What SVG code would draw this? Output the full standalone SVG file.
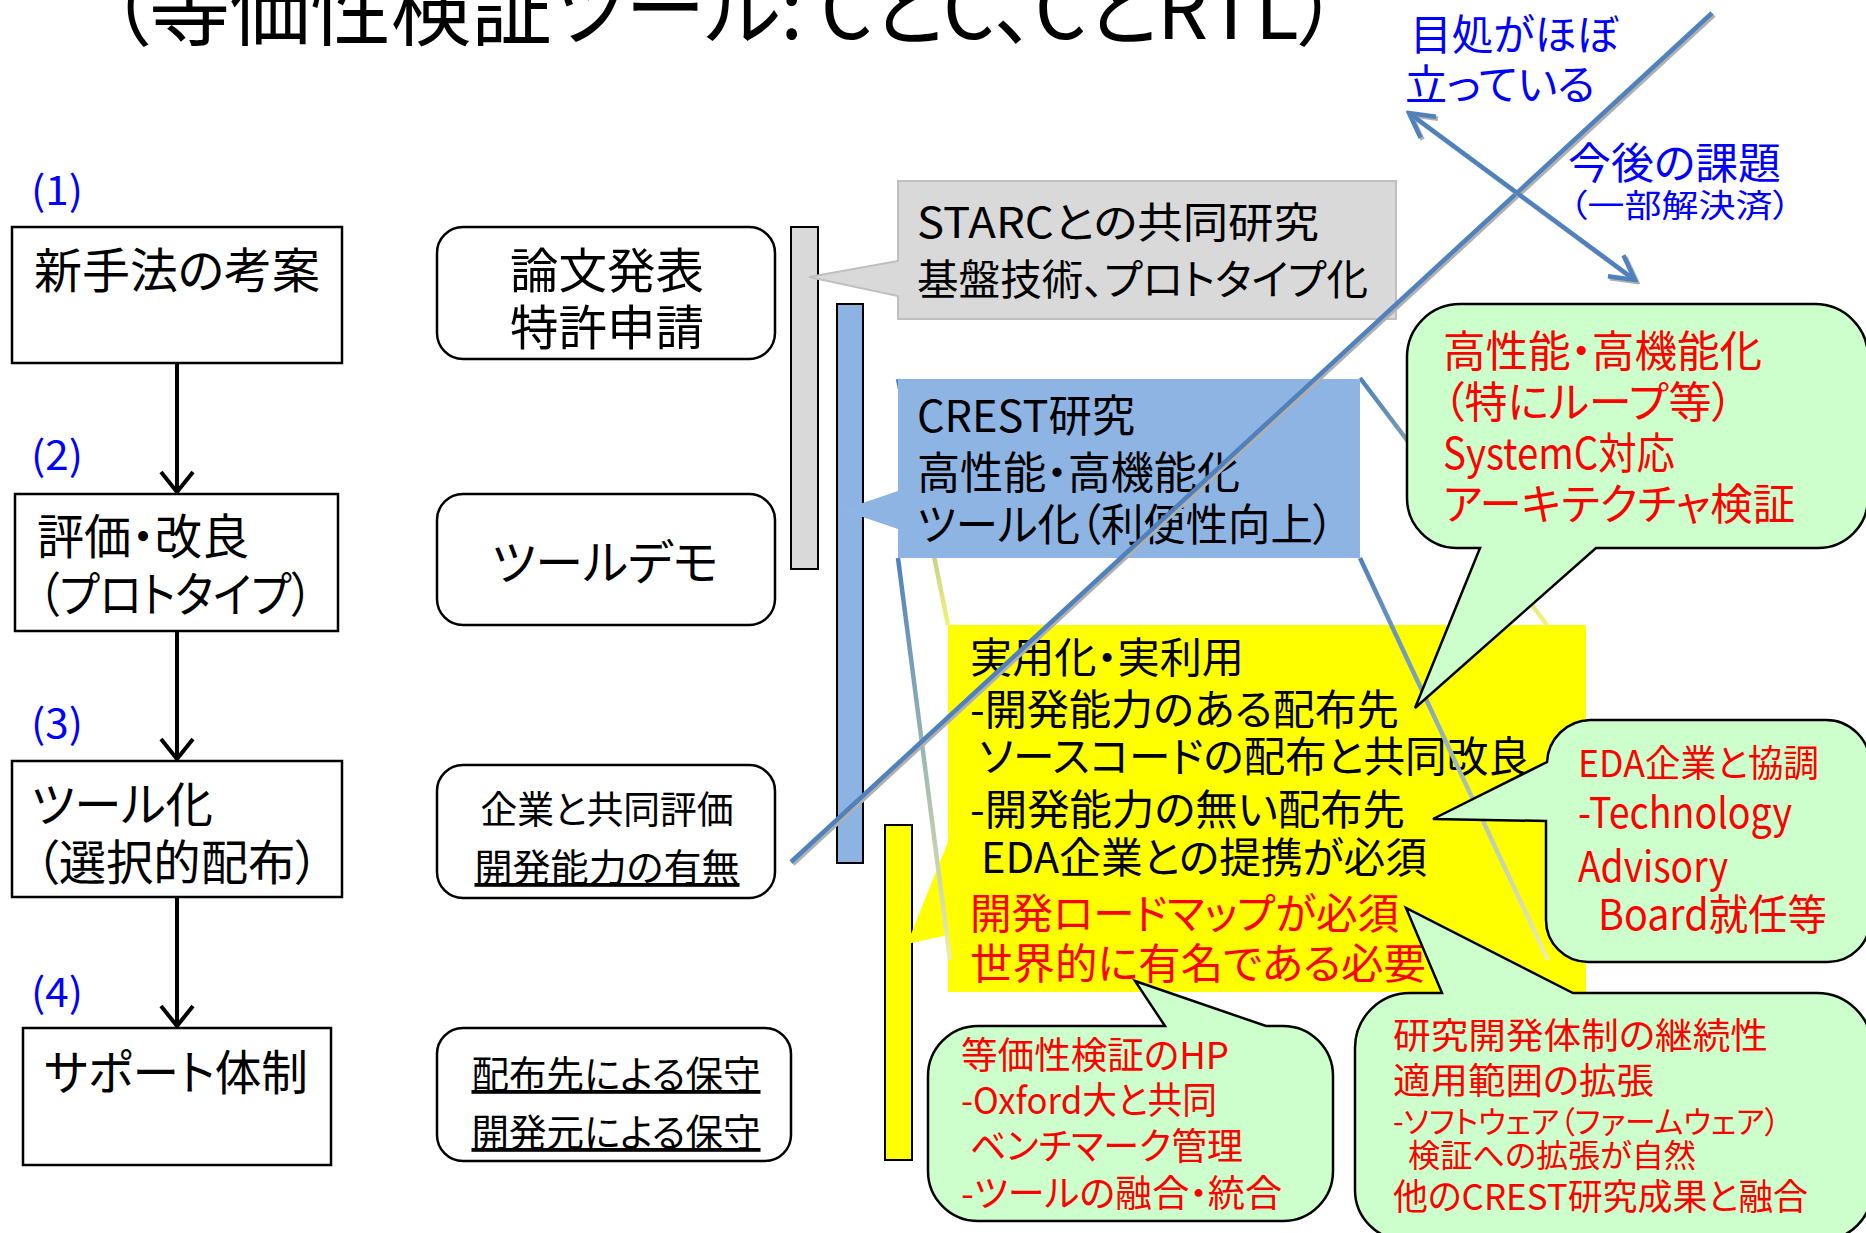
<svg xmlns="http://www.w3.org/2000/svg" width="1866" height="1233" viewBox="0 0 1866 1233">
<style>
text{font-family:"Noto Sans CJK JP","Noto Sans",sans-serif;font-feature-settings:"palt" 1;}
.k{fill:#000}.r{fill:#FF0000}.b{fill:#0000FF}
.box{fill:#FFFFFF;stroke:#000;stroke-width:2.5}
.bub{fill:#CCFFCC;stroke:#000;stroke-width:2.5}
.u{text-decoration:underline}
.mid{text-anchor:middle}
</style>
<defs>
<marker id="ah" markerUnits="userSpaceOnUse" viewBox="0 0 26 38" refX="23" refY="19" markerWidth="26" markerHeight="38" orient="auto">
<path d="M3,3 L23,19 L3,35" fill="none" stroke="#000" stroke-width="4"/>
</marker>
<marker id="bh" markerUnits="userSpaceOnUse" viewBox="0 0 30 32" refX="27" refY="16" markerWidth="30" markerHeight="32" orient="auto-start-reverse">
<path d="M3,3 L27,16 L3,29" fill="none" stroke="#4F81BD" stroke-width="4.5"/>
</marker>
<marker id="sh" markerUnits="userSpaceOnUse" viewBox="0 0 30 32" refX="27" refY="16" markerWidth="30" markerHeight="32" orient="auto-start-reverse">
<path d="M3,3 L27,16 L3,29" fill="none" stroke="#B0B0B0" stroke-width="4.5"/>
</marker>
<linearGradient id="g1" gradientUnits="userSpaceOnUse" x1="898" y1="379" x2="948" y2="625"><stop offset="0" stop-color="#4F81BD"/><stop offset="1" stop-color="#F2F27A"/></linearGradient>
<linearGradient id="g2" gradientUnits="userSpaceOnUse" x1="1360" y1="378" x2="1547" y2="625"><stop offset="0" stop-color="#4F81BD"/><stop offset="1" stop-color="#F2F27A"/></linearGradient>
<linearGradient id="g3" gradientUnits="userSpaceOnUse" x1="898" y1="558" x2="950" y2="960"><stop offset="0" stop-color="#4F81BD"/><stop offset="1" stop-color="#EEEEA8"/></linearGradient>
<linearGradient id="g4" gradientUnits="userSpaceOnUse" x1="1360" y1="558" x2="1548" y2="960"><stop offset="0" stop-color="#4F81BD"/><stop offset="1" stop-color="#EEEEA8"/></linearGradient>
</defs>

<g id="title">
<text x="109" y="39" font-size="84" class="k" textLength="1230" lengthAdjust="spacingAndGlyphs">（等価性検証ツール: CとC、CとRTL）</text>
</g>

<g id="step1">
<text x="31" y="205" font-size="40" class="b" textLength="52" lengthAdjust="spacingAndGlyphs">(1)</text>
<rect class="box" x="12" y="227" width="330" height="136"/>
<text x="34" y="288" font-size="48" class="k" textLength="286" lengthAdjust="spacingAndGlyphs">新手法の考案</text>
</g>
<g id="step2">
<text x="31" y="470" font-size="40" class="b" textLength="52" lengthAdjust="spacingAndGlyphs">(2)</text>
<rect class="box" x="15" y="494" width="323" height="137"/>
<text x="37" y="554" font-size="48" class="k" textLength="212" lengthAdjust="spacingAndGlyphs">評価・改良</text>
<text x="38" y="612" font-size="48" class="k" textLength="275" lengthAdjust="spacingAndGlyphs">（プロトタイプ）</text>
</g>
<g id="step3">
<text x="31" y="738" font-size="40" class="b" textLength="52" lengthAdjust="spacingAndGlyphs">(3)</text>
<rect class="box" x="12" y="761" width="330" height="136"/>
<text x="31" y="822" font-size="48" class="k" textLength="182" lengthAdjust="spacingAndGlyphs">ツール化</text>
<text x="35" y="880" font-size="48" class="k" textLength="284" lengthAdjust="spacingAndGlyphs">（選択的配布）</text>
</g>
<g id="step4">
<text x="31" y="1007" font-size="40" class="b" textLength="52" lengthAdjust="spacingAndGlyphs">(4)</text>
<rect class="box" x="23" y="1028" width="308" height="137"/>
<text x="44" y="1090" font-size="48" class="k" textLength="264" lengthAdjust="spacingAndGlyphs">サポート体制</text>
</g>

<g id="pub">
<rect class="box" x="437" y="227" width="338" height="132" rx="26"/>
<text x="607" y="288" font-size="48" class="k mid" textLength="194" lengthAdjust="spacingAndGlyphs">論文発表</text>
<text x="607" y="345" font-size="48" class="k mid" textLength="194" lengthAdjust="spacingAndGlyphs">特許申請</text>
</g>
<g id="demo">
<rect class="box" x="437" y="494" width="338" height="131" rx="26"/>
<text x="605" y="580" font-size="48" class="k mid" textLength="227" lengthAdjust="spacingAndGlyphs">ツールデモ</text>
</g>
<g id="joint-eval">
<rect class="box" x="437" y="765" width="338" height="133" rx="26"/>
<text x="607" y="823" font-size="38" class="k mid" textLength="253" lengthAdjust="spacingAndGlyphs">企業と共同評価</text>
<text x="607" y="881" font-size="38" class="k mid u" textLength="265" lengthAdjust="spacingAndGlyphs">開発能力の有無</text>
</g>
<g id="maint">
<rect class="box" x="437" y="1028" width="354" height="133" rx="26"/>
<text x="616" y="1088" font-size="38" class="k mid u" textLength="289" lengthAdjust="spacingAndGlyphs">配布先による保守</text>
<text x="616" y="1146" font-size="38" class="k mid u" textLength="289" lengthAdjust="spacingAndGlyphs">開発元による保守</text>
</g>

<g id="bar-gray"><rect x="791" y="227" width="27" height="342" fill="#D9D9D9" stroke="#000" stroke-width="2"/></g>
<g id="bar-blue"><rect x="837" y="304" width="26" height="559" fill="#8DB3E2" stroke="#000" stroke-width="2"/></g>
<g id="bar-yellow"><rect x="885" y="825" width="27" height="335" fill="#FFFF00" stroke="#000" stroke-width="2"/></g>

<g id="practical">
<path d="M948,625 H1586 V992 H948 V935 L907,944 L948,842 Z" fill="#FFFF00"/>
<text x="970" y="673" font-size="42" class="k" textLength="274" lengthAdjust="spacingAndGlyphs">実用化・実利用</text>
<text x="970" y="725" font-size="42" class="k" textLength="429" lengthAdjust="spacingAndGlyphs">-開発能力のある配布先</text>
<text x="979" y="772" font-size="42" class="k" textLength="551" lengthAdjust="spacingAndGlyphs">ソースコードの配布と共同改良</text>
<text x="970" y="825" font-size="42" class="k" textLength="435" lengthAdjust="spacingAndGlyphs">-開発能力の無い配布先</text>
<text x="981" y="873" font-size="42" class="k" textLength="446" lengthAdjust="spacingAndGlyphs">EDA企業との提携が必須</text>
<text x="970" y="929" font-size="42" class="r" textLength="429" lengthAdjust="spacingAndGlyphs">開発ロードマップが必須</text>
<text x="970" y="979" font-size="42" class="r" textLength="456" lengthAdjust="spacingAndGlyphs">世界的に有名である必要</text>
</g>

<g id="zoom-lines" fill="none" stroke-width="4.5">
<line x1="898" y1="379" x2="948" y2="625" stroke="url(#g1)"/>
<line x1="1360" y1="378" x2="1547" y2="625" stroke="url(#g2)"/>
<line x1="898" y1="558" x2="950" y2="960" stroke="url(#g3)"/>
<line x1="1360" y1="558" x2="1548" y2="960" stroke="url(#g4)"/>
</g>

<g id="starc">
<path d="M898,181 H1396 V319 H898 V296 L809,277 L898,261 Z" fill="#D9D9D9" stroke="#BFBFBF" stroke-width="2"/>
<text x="917" y="238" font-size="42" class="k" textLength="402" lengthAdjust="spacingAndGlyphs">STARCとの共同研究</text>
<text x="917" y="295" font-size="42" class="k" textLength="451" lengthAdjust="spacingAndGlyphs">基盤技術、プロトタイプ化</text>
</g>

<g id="crest">
<path d="M898,379 H1360 V558 H898 V529 L842,510 L898,491 Z" fill="#8DB4E2"/>
<text x="917" y="432" font-size="44" class="k" textLength="218" lengthAdjust="spacingAndGlyphs">CREST研究</text>
<text x="917" y="489" font-size="44" class="k" textLength="323" lengthAdjust="spacingAndGlyphs">高性能・高機能化</text>
<text x="917" y="541" font-size="44" class="k" textLength="417" lengthAdjust="spacingAndGlyphs">ツール化（利便性向上）</text>
</g>

<g id="bubble-perf">
<path class="bub" d="M1460,304 H1815 A53,53 0 0 1 1868,357 V498 A50,50 0 0 1 1818,548 H1596 L1415,708 L1480,548 H1457 A50,50 0 0 1 1407,498 V357 A53,53 0 0 1 1460,304 Z"/>
<text x="1443" y="367" font-size="43" class="r" textLength="319" lengthAdjust="spacingAndGlyphs">高性能・高機能化</text>
<text x="1443" y="418" font-size="43" class="r" textLength="290" lengthAdjust="spacingAndGlyphs">（特にループ等）</text>
<text x="1443" y="469" font-size="43" class="r" textLength="232" lengthAdjust="spacingAndGlyphs">SystemC対応</text>
<text x="1443" y="520" font-size="43" class="r" textLength="352" lengthAdjust="spacingAndGlyphs">アーキテクチャ検証</text>
</g>

<g id="bubble-eda">
<path class="bub" d="M1590,720 H1826 A44,44 0 0 1 1870,764 V920 A42,42 0 0 1 1828,962 H1588 A42,42 0 0 1 1546,920 V821 L1433,819 L1547,762 A44,44 0 0 1 1590,720 Z"/>
<text x="1578" y="777" font-size="37" class="r" textLength="241" lengthAdjust="spacingAndGlyphs">EDA企業と協調</text>
<text x="1578" y="828" font-size="42" class="r" textLength="214" lengthAdjust="spacingAndGlyphs">-Technology</text>
<text x="1578" y="882" font-size="42" class="r" textLength="150" lengthAdjust="spacingAndGlyphs">Advisory</text>
<text x="1598" y="930" font-size="42" class="r" textLength="229" lengthAdjust="spacingAndGlyphs">Board就任等</text>
</g>

<g id="bubble-hp">
<path class="bub" d="M978,1026 H1165 L1135,981 L1266,1026 H1283 A50,50 0 0 1 1333,1076 V1171 A50,50 0 0 1 1283,1221 H978 A50,50 0 0 1 928,1171 V1076 A50,50 0 0 1 978,1026 Z"/>
<text x="961" y="1069" font-size="37" class="r" textLength="268" lengthAdjust="spacingAndGlyphs">等価性検証のHP</text>
<text x="961" y="1114" font-size="37" class="r" textLength="256" lengthAdjust="spacingAndGlyphs">-Oxford大と共同</text>
<text x="970" y="1160" font-size="37" class="r" textLength="273" lengthAdjust="spacingAndGlyphs">ベンチマーク管理</text>
<text x="961" y="1207" font-size="37" class="r" textLength="321" lengthAdjust="spacingAndGlyphs">-ツールの融合・統合</text>
</g>

<g id="bubble-research">
<path class="bub" d="M1410,993 H1442 L1406,908 L1573,993 H1817 A55,55 0 0 1 1872,1048 V1190 A50,50 0 0 1 1822,1240 H1405 A50,50 0 0 1 1355,1190 V1048 A55,55 0 0 1 1410,993 Z"/>
<text x="1393" y="1049" font-size="36" class="r" textLength="375" lengthAdjust="spacingAndGlyphs">研究開発体制の継続性</text>
<text x="1393" y="1094" font-size="36" class="r" textLength="261" lengthAdjust="spacingAndGlyphs">適用範囲の拡張</text>
<text x="1393" y="1133" font-size="31" class="r" textLength="387" lengthAdjust="spacingAndGlyphs">-ソフトウェア（ファームウェア）</text>
<text x="1408" y="1167" font-size="32" class="r" textLength="288" lengthAdjust="spacingAndGlyphs">検証への拡張が自然</text>
<text x="1393" y="1210" font-size="36" class="r" textLength="415" lengthAdjust="spacingAndGlyphs">他のCREST研究成果と融合</text>
</g>

<g id="status-labels">
<text x="1410" y="50" font-size="42" class="b" textLength="209" lengthAdjust="spacingAndGlyphs">目処がほぼ</text>
<text x="1405" y="100" font-size="42" class="b" textLength="190" lengthAdjust="spacingAndGlyphs">立っている</text>
<text x="1568" y="179" font-size="43" class="b" textLength="213" lengthAdjust="spacingAndGlyphs">今後の課題</text>
<text x="1569" y="217" font-size="32" class="b" textLength="222" lengthAdjust="spacingAndGlyphs">（一部解決済）</text>
</g>

<g id="connectors" fill="none">
<line x1="177" y1="363" x2="177" y2="492" stroke="#000" stroke-width="4" marker-end="url(#ah)"/>
<line x1="177" y1="631" x2="177" y2="759" stroke="#000" stroke-width="4" marker-end="url(#ah)"/>
<line x1="177" y1="897" x2="177" y2="1026" stroke="#000" stroke-width="4" marker-end="url(#ah)"/>
<line x1="1714" y1="15" x2="793" y2="864" stroke="#B0B0B0" stroke-width="4.5"/>
<line x1="1712" y1="13" x2="791" y2="862" stroke="#4F81BD" stroke-width="4.5"/>
<line x1="1411" y1="115" x2="1637" y2="282" stroke="#B0B0B0" stroke-width="4.5" marker-start="url(#sh)" marker-end="url(#sh)"/>
<line x1="1409" y1="113" x2="1635" y2="280" stroke="#4F81BD" stroke-width="4.5" marker-start="url(#bh)" marker-end="url(#bh)"/>
</g>
</svg>
